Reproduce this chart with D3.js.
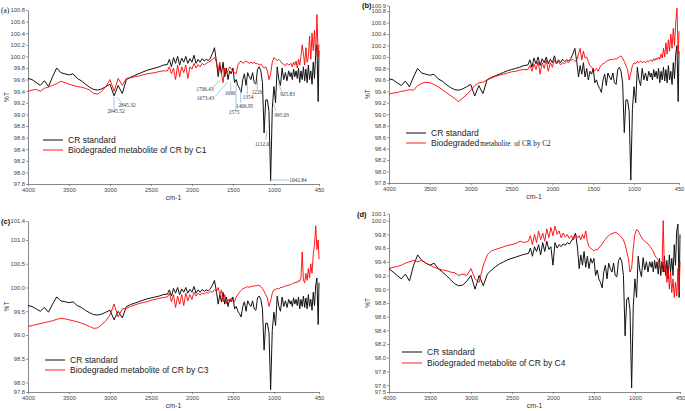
<!DOCTYPE html>
<html><head><meta charset="utf-8">
<script src="https://cdn.jsdelivr.net/npm/d3@7"></script>
<style>body{margin:0;background:#fff}svg{display:block}</style>
</head><body>
<svg id="chart" width="685" height="411"></svg>
<script>
// Shared wavenumber grid (cm-1)
const wavenumbers = [
4000,3950,3900,3850,3800,3750,3700,3650,3600,3550,3500,3450,3400,3350,3300,3250,3200,3150,3100,3050,3000,2950,2900,2850,2800,2750,2700,2650,2600,2550,2500,2450,2400,2350,
2300,2275,2250,2225,2200,2175,2150,2125,2100,2075,2050,2025,2000,1975,1950,1925,1900,1875,1850,1825,1800,1775,1750,1725,1700,
1680,1660,1640,1620,1600,1580,1560,1540,1520,1500,1480,1460,1440,1420,1400,1380,1360,1340,1320,1300,1280,1260,1240,1220,1200,1180,1160,1140,1120,1100,1080,1060,1040,1020,1000,980,960,940,920,900,880,860,840,820,800,
790,775,760,745,730,715,700,685,670,655,640,625,610,595,580,565,550,535,520,505,490,475,460,450];

// CR standard (%T), panels a-c
const crStandard = [
99.62,99.6,99.55,99.5,99.58,99.48,99.65,99.8,99.72,99.7,99.68,99.7,99.62,99.58,99.52,99.47,99.43,99.42,99.44,99.48,99.52,99.32,99.5,99.36,99.6,99.64,99.67,99.7,99.73,99.76,99.78,99.8,99.82,99.85,
99.86,99.95,99.82,99.98,99.88,100.0,99.85,99.97,99.9,100.0,99.88,99.96,99.9,100.02,99.88,99.95,99.9,99.96,99.92,99.95,99.93,99.97,100.05,100.15,99.9,
99.65,99.85,99.7,99.9,99.65,99.8,99.6,99.75,99.7,99.8,99.55,99.6,99.5,99.45,99.38,99.6,99.7,99.5,99.72,99.65,99.6,99.72,99.55,99.52,99.78,99.82,99.75,99.55,98.68,99.25,99.25,99.05,97.85,99.1,99.48,99.2,99.82,99.6,99.5,99.8,99.6,99.72,99.58,99.75,99.65,
99.72,99.6,99.78,99.65,99.75,99.62,99.8,99.55,99.75,99.6,99.82,99.58,99.78,99.55,99.85,99.6,99.75,99.52,99.9,99.62,100.05,100.2,99.22,100.1];

const bioC1 = [
99.4,99.42,99.43,99.4,99.45,99.47,99.5,99.53,99.57,99.55,99.52,99.5,99.48,99.47,99.45,99.42,99.36,99.35,99.4,99.48,99.6,99.4,99.62,99.5,99.62,99.63,99.65,99.66,99.68,99.7,99.71,99.72,99.74,99.75,
99.75,99.82,99.7,99.8,99.6,99.85,99.65,99.82,99.72,99.85,99.62,99.82,99.78,99.88,99.8,99.86,99.82,99.88,99.85,99.88,99.9,99.92,99.95,99.98,99.9,
99.75,99.9,99.7,99.55,99.8,99.72,99.75,99.82,99.78,99.75,99.72,99.7,99.85,99.9,99.92,99.88,99.9,99.92,99.9,99.88,99.9,99.88,99.9,99.87,99.88,99.85,99.87,99.83,99.8,99.82,99.75,99.6,99.7,99.9,99.98,99.95,99.93,99.95,99.92,99.88,99.86,99.84,99.88,99.85,99.87,
99.88,99.82,99.9,99.85,99.92,99.8,99.95,99.85,100.0,100.2,100.05,99.85,100.15,99.9,100.0,100.35,99.95,100.4,100.1,100.45,100.0,100.72,100.0,100.2];

const bioC2 = [
99.35,99.37,99.38,99.4,99.41,99.43,99.42,99.5,99.54,99.56,99.55,99.52,99.48,99.43,99.38,99.33,99.28,99.22,99.28,99.34,99.42,99.5,99.55,99.56,99.6,99.63,99.66,99.68,99.7,99.72,99.74,99.75,99.77,99.78,
99.78,99.85,99.75,99.88,99.78,99.92,99.7,99.9,99.8,99.95,99.75,99.9,99.82,99.95,99.88,99.92,99.86,99.9,99.88,99.92,99.9,99.94,99.96,99.92,99.95,
100.05,100.15,99.95,100.1,99.98,100.0,99.92,99.85,99.82,99.78,99.76,99.8,99.75,99.82,99.86,99.88,99.9,99.92,99.94,99.95,99.96,99.95,99.97,99.96,99.98,100.0,100.02,99.98,99.92,99.85,99.78,99.6,99.72,99.85,99.9,99.88,99.92,99.9,99.93,99.9,99.92,99.9,99.93,99.92,99.94,
99.95,99.92,99.97,99.94,99.98,99.95,100.0,99.96,100.05,99.98,100.15,100.0,100.25,100.05,100.3,100.1,100.4,100.15,100.5,100.2,100.6,100.85,100.05,100.45];

const bioC3 = [
99.18,99.2,99.22,99.24,99.26,99.28,99.3,99.33,99.35,99.34,99.32,99.3,99.28,99.25,99.22,99.18,99.14,99.15,99.22,99.3,99.42,99.65,99.38,99.55,99.56,99.6,99.63,99.66,99.68,99.7,99.73,99.75,99.77,99.79,
99.8,99.88,99.7,99.85,99.58,99.82,99.65,99.85,99.62,99.88,99.72,99.85,99.75,99.9,99.82,99.88,99.84,99.88,99.86,99.9,99.88,99.92,99.9,99.95,99.92,
100.0,99.85,99.95,99.7,99.85,99.66,99.75,99.7,99.78,99.72,99.7,99.8,99.85,99.9,99.94,99.97,99.99,100.0,100.02,100.0,100.03,100.02,100.04,100.03,100.05,100.04,100.02,99.98,99.92,99.85,99.78,99.6,99.72,99.88,99.95,99.96,99.98,99.97,100.0,100.0,100.02,100.03,100.04,100.05,100.06,
100.07,100.08,100.1,100.09,100.12,100.1,100.15,100.13,100.2,100.75,100.15,100.1,100.3,100.15,100.4,100.2,100.5,100.3,100.7,100.9,101.3,100.8,101.0,100.6];

// CR standard as recorded for panel d
const crStandardD = [
99.3,99.25,99.2,99.15,99.22,99.12,99.35,99.5,99.42,99.38,99.35,99.38,99.3,99.25,99.2,99.14,99.08,99.05,99.06,99.12,99.2,99.0,99.2,99.05,99.22,99.28,99.33,99.37,99.4,99.43,99.45,99.47,99.49,99.51,
99.52,99.6,99.48,99.62,99.55,99.65,99.5,99.68,99.55,99.7,99.58,99.62,99.35,99.68,99.6,99.65,99.62,99.66,99.64,99.68,99.66,99.7,99.75,99.82,99.6,
99.3,99.5,99.35,99.55,99.32,99.48,99.3,99.45,99.38,99.45,99.2,99.28,99.15,99.1,99.02,99.25,99.35,99.15,99.38,99.3,99.25,99.38,99.2,99.18,99.42,99.46,99.4,99.2,98.32,98.85,98.88,98.7,97.56,98.75,99.15,98.88,99.48,99.28,99.18,99.46,99.28,99.4,99.25,99.4,99.32,
99.4,99.25,99.42,99.3,99.4,99.22,99.45,99.2,99.4,99.25,99.48,99.2,99.42,99.15,99.5,99.25,99.45,99.2,99.65,99.35,99.85,99.95,98.88,99.8];

const bioC4 = [
99.3,99.32,99.33,99.35,99.38,99.4,99.42,99.4,99.42,99.38,99.35,99.32,99.3,99.28,99.27,99.25,99.24,99.2,99.22,99.2,99.3,99.15,99.1,99.35,99.5,99.56,99.58,99.6,99.62,99.64,99.65,99.67,99.7,99.68,
99.7,99.78,99.65,99.8,99.68,99.85,99.72,99.82,99.7,99.88,99.75,99.9,99.78,99.92,99.8,99.85,99.75,99.82,99.76,99.8,99.74,99.78,99.72,99.8,99.75,
99.78,99.72,99.8,99.74,99.85,99.7,99.62,99.6,99.58,99.56,99.58,99.57,99.6,99.63,99.66,99.7,99.73,99.76,99.78,99.8,99.81,99.82,99.83,99.82,99.8,99.78,99.75,99.72,99.65,99.55,99.45,99.25,99.3,99.6,99.8,99.87,99.85,99.8,99.76,99.72,99.7,99.68,99.66,99.63,99.6,
99.58,99.55,99.5,99.47,99.45,99.42,99.35,99.3,99.3,100.0,99.25,99.35,99.1,99.3,99.0,99.25,98.95,99.15,98.88,99.1,98.9,99.3,98.95,99.4];

const xTicks = [4000,3500,3000,2500,2000,1500,1000,450];
const yTicksA = [97.8,98.0,98.2,98.4,98.6,98.8,99.0,99.2,99.4,99.6,99.8,100.0,100.2,100.4,100.6,100.8];
const yTicksB = [97.8,98.0,98.2,98.4,98.6,98.8,99.0,99.2,99.4,99.6,99.8,100.0,100.2,100.4,100.6,100.8,100.9];
const yTicksC = [97.8,98.0,98.5,99.0,99.5,100.0,100.5,101.0,101.4];
const yTicksD = [97.5,97.6,97.8,98.0,98.2,98.4,98.6,98.8,99.0,99.2,99.4,99.6,99.8,100.0,100.1];

const peakLabels = ["2945.52","2845.32","1706.43","1673.43","1690","1575","1406.95","1354","1226","1112.0","1042.84","995.03","925.83"];
const panelLetters = ["(a)","(b)","(c)","(d)"];
const legendBlack = "CR standard";
const legendRed = ["Biodegraded metabolite of CR by C1","Biodegraded","Biodegraded metabolite of CR by C3","Biodegraded metabolite of CR by C4"];

const svg = d3.select("#chart");
const SANS = "'Liberation Sans', Arial, sans-serif";
const SERIF = "'Liberation Serif', 'Times New Roman', serif";

function panel(o) {
  const x = d3.scaleLinear().domain([4000, 450]).range([o.x0, o.x1]);
  const y = d3.scaleLinear().domain(o.yDomain).range([o.yb, o.yt]);
  const g = svg.append("g");

  const ya = d3.axisLeft(y).tickValues(o.yTicks).tickFormat(d3.format(".1f")).tickSize(2).tickSizeOuter(0).tickPadding(1);
  const gy = g.append("g").attr("transform", `translate(${o.x0},0)`).call(ya);
  const xa = d3.axisBottom(x).tickValues(xTicks).tickFormat(d3.format("d")).tickSize(2).tickSizeOuter(0).tickPadding(2);
  const gx = g.append("g").attr("transform", `translate(0,${o.yb})`).call(xa);
  [gx, gy].forEach(a => {
    a.selectAll("text").attr("font-family", SANS).attr("font-size", 5.8).attr("fill", "#444");
    a.selectAll("line").attr("stroke", "#555").attr("stroke-width", 0.6);
    a.select(".domain").attr("stroke", "#555").attr("stroke-width", 0.7);
  });

  const line = d3.line().x((d, i) => x(wavenumbers[i])).y(d => y(d));
  g.append("path").datum(o.black).attr("d", line).attr("fill", "none").attr("stroke", "#111").attr("stroke-width", 1);
  g.append("path").datum(o.red).attr("d", line).attr("fill", "none").attr("stroke", "#ff0000").attr("stroke-width", 0.9);

  // axis titles
  g.append("text").attr("transform", `translate(${o.x0 - 19},${(o.yt + o.yb) / 2}) rotate(-90)`)
    .attr("text-anchor", "middle").attr("font-family", SANS).attr("font-size", 6.5).attr("fill", "#333").text("%T");
  g.append("text").attr("x", (o.x0 + o.x1) / 2).attr("y", o.yb + 16).attr("text-anchor", "middle")
    .attr("font-family", SANS).attr("font-size", 7).attr("fill", "#333").text("cm-1");

  // panel letter
  g.append("text").attr("x", o.lx).attr("y", o.ly).attr("font-family", o.letterSerif ? SERIF : SANS)
    .attr("font-weight", o.letterSerif ? "normal" : "bold").attr("font-size", 7.5).attr("fill", "#111").text(o.letter);

  // legend
  const L = o.legend;
  g.append("line").attr("x1", L.x).attr("x2", L.x + 20).attr("y1", L.y).attr("y2", L.y).attr("stroke", "#222").attr("stroke-width", 1.1);
  g.append("line").attr("x1", L.x).attr("x2", L.x + 20).attr("y1", L.y + L.dy).attr("y2", L.y + L.dy).attr("stroke", "#ff3030").attr("stroke-width", 1.1);
  g.append("text").attr("x", L.x + 25).attr("y", L.y + 3).attr("font-family", SANS).attr("font-size", 8.5).attr("fill", "#222").text(legendBlack);
  const t = g.append("text").attr("x", L.x + 25).attr("y", L.y + L.dy + 3).attr("font-family", SANS).attr("font-size", 8.5).attr("fill", "#222");
  t.append("tspan").text(o.redLabel);
  if (o.redTail) t.append("tspan").attr("font-family", SERIF).attr("font-size", 7.2).attr("dx", 1).attr("xml:space", "preserve").text(o.redTail);
  return { x, y, g };
}

const pa = panel({ x0: 28, x1: 319, yt: 10, yb: 184, yDomain: [97.8, 100.8], yTicks: yTicksA, black: crStandard, red: bioC1,
  letter: panelLetters[0], lx: 1, ly: 13, letterSerif: true, legend: { x: 43, y: 140, dy: 10 }, redLabel: legendRed[0] });
panel({ x0: 389, x1: 679, yt: 5.4, yb: 183, yDomain: [97.8, 100.9], yTicks: yTicksB, black: crStandard, red: bioC2,
  letter: panelLetters[1], lx: 362, ly: 8, legend: { x: 406, y: 133, dy: 10 }, redLabel: legendRed[1], redTail: "metabolite\u00a0 of CR by C2" });
panel({ x0: 28, x1: 319, yt: 221, yb: 392, yDomain: [97.8, 101.4], yTicks: yTicksC, black: crStandard, red: bioC3,
  letter: panelLetters[2], lx: 1, ly: 224, legend: { x: 45, y: 360, dy: 10 }, redLabel: legendRed[2] });
panel({ x0: 389, x1: 680, yt: 213.8, yb: 392, yDomain: [97.5, 100.1], yTicks: yTicksD, black: crStandardD, red: bioC4,
  letter: panelLetters[3], lx: 357, ly: 217, legend: { x: 402, y: 352, dy: 11 }, redLabel: legendRed[3] });

// peak annotations in panel a (data coordinates: wavenumber, %T)
const ann = [
  { tx: 2926, ty: 99.02, a: "middle", l: [2951, 99.30, 2951, 99.10] },
  { tx: 2792, ty: 99.13, a: "middle", l: [2914, 99.30, 2865, 99.21] },
  { tx: 1841, ty: 99.40, a: "middle", l: [1740, 99.47, 1650, 99.60] },
  { tx: 1835, ty: 99.25, a: "middle", l: [1717, 99.31, 1568, 99.55] },
  { tx: 1536, ty: 99.33, a: "middle", l: [1527, 99.55, 1527, 99.41] },
  { tx: 1487, ty: 99.00, a: "middle", l: [1462, 99.54, 1462, 99.08] },
  { tx: 1357, ty: 99.11, a: "middle", l: [1405, 99.44, 1405, 99.20] },
  { tx: 1316, ty: 99.27, a: "middle", l: [1325, 99.56, 1325, 99.35] },
  { tx: 1206, ty: 99.35, a: "middle", l: [1202, 99.61, 1202, 99.42] },
  { tx: 1145, ty: 98.46, a: "middle", l: [1100, 98.56, 1084, 98.72] },
  { tx: 812, ty: 97.83, a: "start", l: [1048, 97.87, 816, 97.87] },
  { tx: 905, ty: 98.95, a: "middle", l: [974, 99.06, 1007, 99.19] },
  { tx: 834, ty: 99.32, a: "middle", l: [905, 99.39, 946, 99.54] }
];
ann.forEach((d, i) => {
  pa.g.append("line").attr("x1", pa.x(d.l[0])).attr("y1", pa.y(d.l[1])).attr("x2", pa.x(d.l[2])).attr("y2", pa.y(d.l[3]))
    .attr("stroke", "#8db8e0").attr("stroke-width", 0.8);
  pa.g.append("text").attr("x", pa.x(d.tx)).attr("y", pa.y(d.ty)).attr("text-anchor", d.a)
    .attr("font-family", SERIF).attr("font-size", 5.3).attr("fill", "#333").text(peakLabels[i]);
});
</script>
</body></html>
